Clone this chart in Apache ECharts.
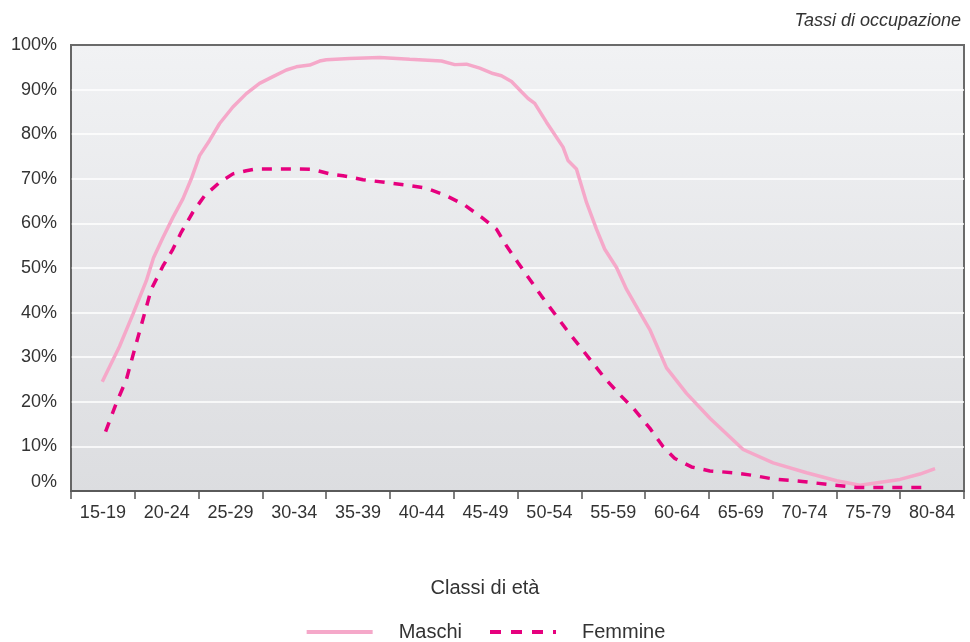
<!DOCTYPE html>
<html>
<head>
<meta charset="utf-8">
<script src="https://cdn.jsdelivr.net/npm/echarts@6/dist/echarts.min.js"></script>
<style>
  html, body { margin: 0; padding: 0; background: #ffffff; }
  #chart { width: 970px; height: 642px; }
</style>
</head>
<body>
<div id="chart"></div>
<script>
// Age classes (x axis labels)
var categories = ['15-19','20-24','25-29','30-34','35-39','40-44','45-49','50-54','55-59','60-64','65-69','70-74','75-79','80-84'];
// Y tick values
var yTicks = [0,10,20,30,40,50,60,70,80,90,100];

// Maschi: age position (years) and employment rate (%)
var maleAge = [17.45,18.8,19.85,20.9,21.47,22.2,22.98,23.77,24.43,25.08,25.86,26.65,27.69,28.74,29.78,30.83,31.88,32.66,33.71,34.49,35.02,36.84,39.2,41.55,44.04,45.08,46.0,47.04,48.08,48.74,49.53,50.31,50.83,51.35,52.27,53.57,53.96,54.62,55.41,56.19,56.84,57.76,58.55,59.45,60.37,61.68,63.25,65.08,67.69,70.04,72.66,75.02,76.84,79.98,81.55,82.73];
var maleRate = [24.5,32.4,39.6,47.1,52.3,56.8,61.3,65.5,70.0,75.2,78.6,82.4,86.1,89.1,91.4,92.9,94.4,95.1,95.5,96.4,96.7,97.0,97.2,96.8,96.4,95.6,95.7,94.8,93.6,93.1,91.8,89.5,88.0,86.9,82.7,77.1,74.1,72.2,64.7,58.7,54.2,50.1,45.2,40.7,36.2,27.6,21.9,16.3,9.3,6.3,4.1,2.3,1.3,2.6,3.8,5.0];

// Femmine: age position (years) and employment rate (%)
var femaleAge = [17.71,18.55,19.33,19.98,20.63,21.29,22.2,22.98,23.64,24.55,25.47,26.65,27.69,28.74,29.53,32.92,33.96,35.27,36.32,37.89,39.59,41.29,42.86,44.43,45.86,47.17,48.35,49.13,50.04,51.88,53.84,55.8,56.84,58.02,59.06,60.37,61.42,62.33,63.64,65.08,66.91,68.47,70.04,72.14,74.23,76.58,78.41,81.94];
var femaleRate = [13.3,19.7,24.9,31.7,38.4,45.2,50.4,54.2,58.0,62.5,66.2,69.2,71.1,71.8,72.2,72.2,72.1,71.1,70.7,69.8,69.2,68.6,67.9,66.2,64.1,61.4,58.7,55.0,51.2,43.7,36.2,29.1,25.3,21.6,18.6,14.1,9.9,7.3,5.4,4.5,4.1,3.5,2.7,2.2,1.5,0.8,0.8,0.8];

function pairs(xs, ys) {
  var out = [];
  for (var i = 0; i < xs.length; i++) out.push([xs[i], ys[i]]);
  return out;
}

var chart = echarts.init(document.getElementById('chart'), null, { renderer: 'canvas' });
var FONT = "'Liberation Sans', Arial, sans-serif";

var option = {
  animation: false,
  backgroundColor: '#ffffff',
  textStyle: { fontFamily: FONT },
  title: [
    {
      text: 'Tassi di occupazione',
      right: 4, top: 7,
      textStyle: { fontFamily: FONT, fontSize: 18, fontStyle: 'italic', fontWeight: 'normal', color: '#333333' }
    },
    {
      text: 'Classi di età',
      left: 'center', top: 573,
      textStyle: { fontFamily: FONT, fontSize: 20, fontWeight: 'normal', color: '#333333' }
    }
  ],
  legend: {
    left: 'center', top: 617,
    itemWidth: 66, itemHeight: 12, itemGap: 26,
    itemStyle: { opacity: 0 },
    textStyle: { fontFamily: FONT, fontSize: 20, color: '#333333', padding: [0, 0, 0, 21] },
    data: [
      { name: 'Maschi', itemStyle: { opacity: 0 }, lineStyle: { width: 4, color: '#f5a8c9' } },
      { name: 'Femmine', itemStyle: { opacity: 0 }, lineStyle: { width: 4, color: '#e6007e', type: [11, 10] } }
    ]
  },
  grid: {
    left: 71, right: 6, top: 45, bottom: 151,
    show: true,
    borderColor: '#6a6a6a', borderWidth: 2,
    backgroundColor: new echarts.graphic.LinearGradient(0, 0, 0, 1, [
      { offset: 0, color: '#f1f2f4' },
      { offset: 1, color: '#dcdde0' }
    ])
  },
  xAxis: [
    {
      type: 'category',
      data: categories,
      boundaryGap: true,
      axisLine: { show: true, lineStyle: { color: '#555555', width: 1.5 } },
      axisTick: { show: true, interval: 0, length: 8, lineStyle: { color: '#555555', width: 1.5 } },
      axisLabel: { interval: 0, margin: 13, fontFamily: FONT, fontSize: 18, color: '#333333' },
      splitLine: { show: false }
    },
    {
      type: 'value',
      min: 15, max: 85,
      show: false,
      position: 'bottom'
    }
  ],
  yAxis: {
    type: 'value',
    min: yTicks[0], max: yTicks[yTicks.length - 1], interval: 10,
    axisLine: { show: true, lineStyle: { color: '#666666', width: 1.5 } },
    axisTick: { show: false },
    axisLabel: {
      margin: 14, fontFamily: FONT, fontSize: 18, color: '#333333',
      formatter: '{value}%',
      verticalAlignMinLabel: 'bottom'
    },
    splitLine: { show: true, showMaxLine: false, showMinLine: false, lineStyle: { color: '#ffffff', width: 1.5 } }
  },
  series: [
    {
      name: 'Maschi',
      type: 'line',
      xAxisIndex: 1,
      data: pairs(maleAge, maleRate),
      symbol: 'none',
      smooth: false,
      lineStyle: { color: '#f5a8c9', width: 3.5 },
      itemStyle: { color: '#f5a8c9' },
      z: 3
    },
    {
      name: 'Femmine',
      type: 'line',
      xAxisIndex: 1,
      data: pairs(femaleAge, femaleRate),
      symbol: 'none',
      smooth: false,
      lineStyle: { color: '#e6007e', width: 3.5, type: [10, 9] },
      itemStyle: { color: '#e6007e' },
      z: 4
    }
  ]
};
chart.setOption(option);
</script>
</body>
</html>
